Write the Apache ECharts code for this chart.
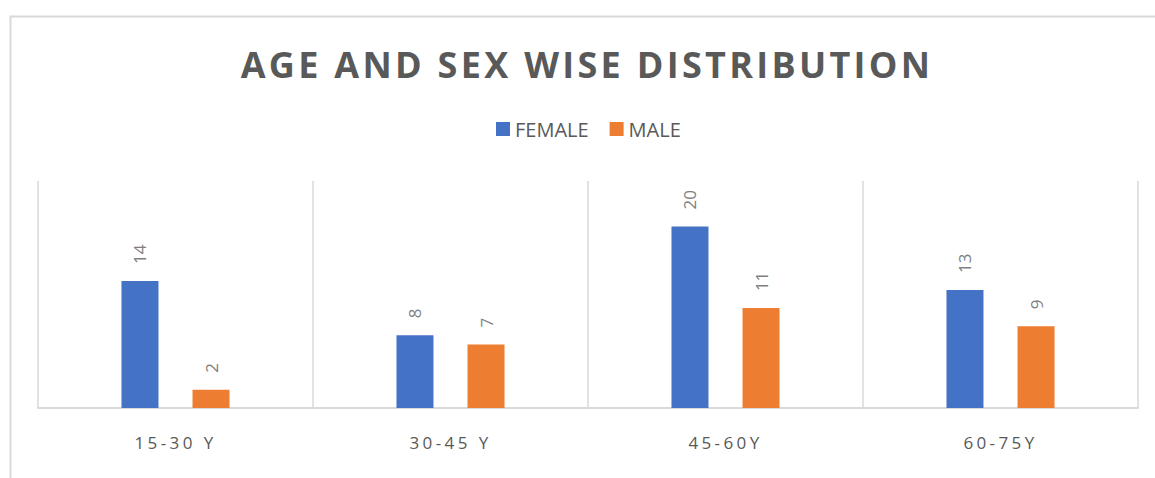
<!DOCTYPE html>
<html>
<head>
<meta charset="utf-8">
<script src="https://cdn.jsdelivr.net/npm/echarts@6/dist/echarts.min.js"></script>
<style>
  html, body { margin: 0; padding: 0; background: #fff; }
  #chart { width: 1155px; height: 478px; }
</style>
</head>
<body>
<div id="chart"></div>
<script>
// data
var categories = ['15-30 Y', '30-45 Y', '45-60Y', '60-75Y'];
var femaleValues = [14, 8, 20, 13];
var maleValues = [2, 7, 11, 9];
var seriesNames = ['FEMALE', 'MALE'];
var titleText = 'AGE AND SEX WISE DISTRIBUTION';

// svg renderer so the spaced-out texts can get css letter-spacing
var chartDom = document.getElementById('chart');
var chart = echarts.init(chartDom, null, { renderer: 'svg' });

// label above each bar, turned upright
var barLabel = {
  show: true,
  position: 'top',
  rotate: 90,
  align: 'left',
  verticalAlign: 'middle',
  distance: 17,
  color: '#7f7f7f',
  fontSize: 17,
  fontFamily: 'Open Sans'
};

chart.setOption({
  animation: false,
  backgroundColor: '#fff',
  color: ['#4472C4', '#ED7D31'],
  graphic: [{
    type: 'rect',
    left: 8, top: 14,
    shape: { width: 1200, height: 500 },
    style: { fill: 'none', stroke: '#d9d9d9', lineWidth: 2 }
  }],
  title: {
    text: titleText,
    left: 582,
    textAlign: 'center',
    top: 41,
    textStyle: {
      color: '#595959',
      fontSize: 36,
      fontWeight: 'bold',
      fontFamily: 'Open Sans'
    }
  },
  legend: {
    data: seriesNames,
    top: 114,
    left: 491,
    itemWidth: 14,
    itemHeight: 14,
    itemGap: 21,
    icon: 'rect',
    textStyle: { color: '#595959', fontSize: 20, fontFamily: 'Open Sans' }
  },
  grid: { left: 38, right: 17, top: 181, bottom: 70 },
  xAxis: {
    type: 'category',
    data: categories,
    axisLine: { lineStyle: { color: '#d9d9d9', width: 2 } },
    axisTick: { show: false },
    splitLine: { show: true, lineStyle: { color: '#d9d9d9', width: 1.5 } },
    axisLabel: {
      color: '#595959',
      fontSize: 17,
      fontFamily: 'Open Sans',
      margin: 26
    }
  },
  yAxis: {
    type: 'value',
    min: 0,
    max: 25,
    show: false,
    splitLine: { show: false }
  },
  series: [
    {
      name: seriesNames[0],
      type: 'bar',
      data: femaleValues,
      barWidth: 37,
      barGap: '92%',
      label: barLabel
    },
    {
      name: seriesNames[1],
      type: 'bar',
      data: maleValues,
      barWidth: 37,
      barGap: '92%',
      label: barLabel
    }
  ]
});

// title and category names are drawn letter-spaced in the original
function spaceOut() {
  var texts = chartDom.querySelectorAll('text');
  for (var i = 0; i < texts.length; i++) {
    var t = texts[i].textContent;
    if (t === titleText) {
      texts[i].style.letterSpacing = '3.3px';
    } else if (categories.indexOf(t) >= 0) {
      texts[i].style.letterSpacing = '3.4px';
    }
  }
}
spaceOut();
chart.on('finished', spaceOut);
</script>
</body>
</html>
